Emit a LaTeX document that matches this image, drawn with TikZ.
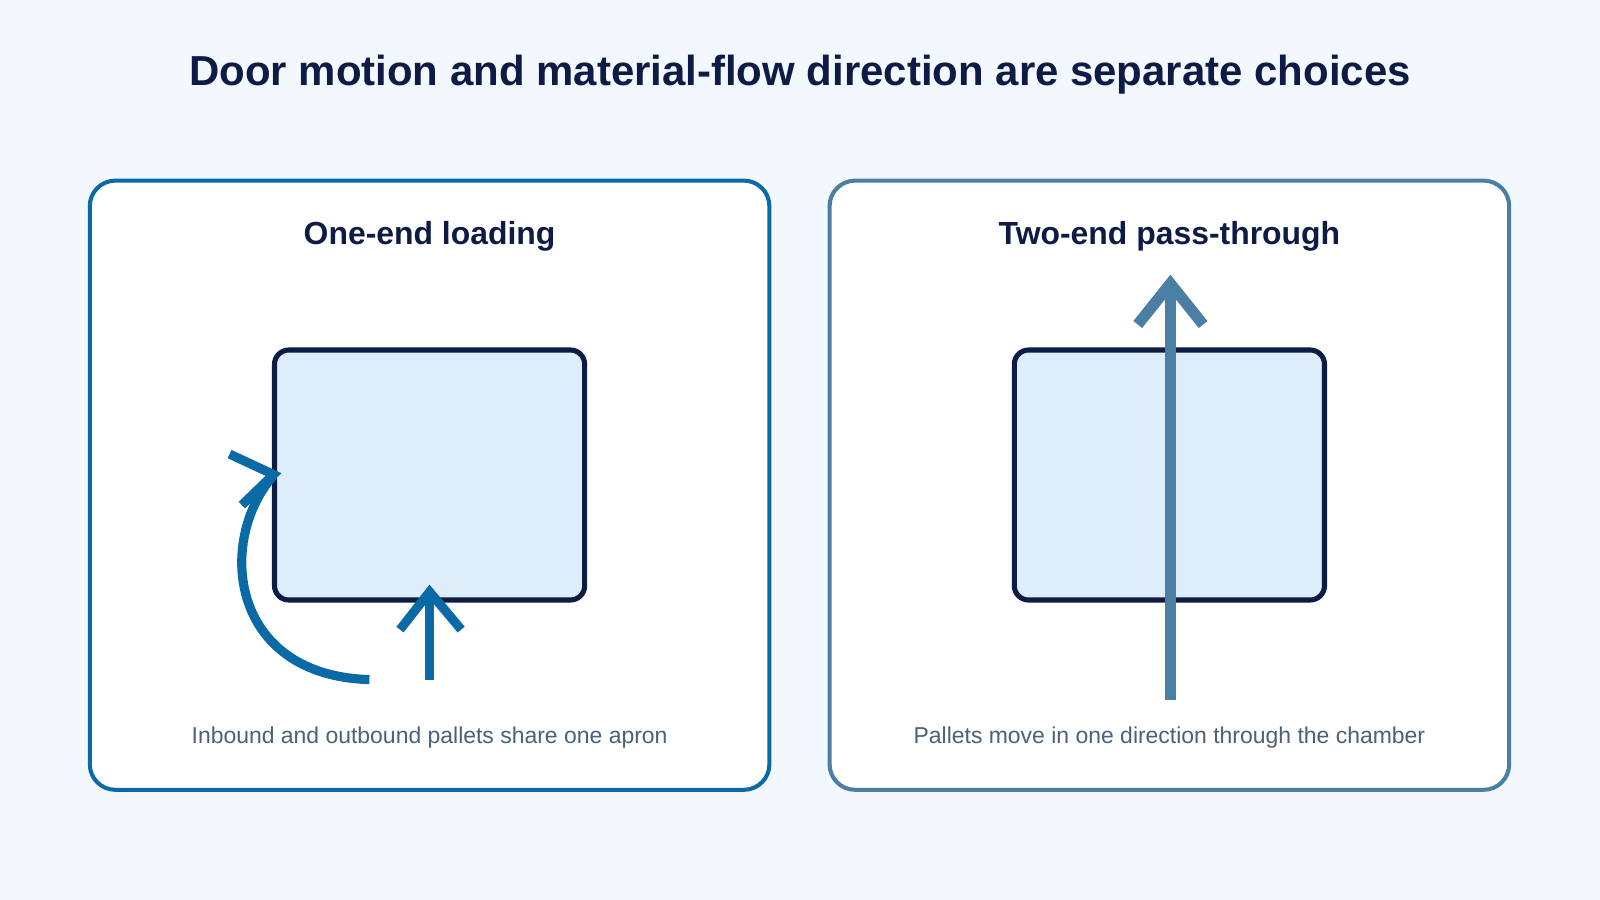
\documentclass[tikz,border=0pt]{standalone}
\usepackage{fontspec}
\setmainfont{Liberation Sans}
\begin{document}
\begin{tikzpicture}[x=0.02cm,y=-0.02cm,
  panel/.style={rounded corners=25*0.02cm,fill=white,line width=4*0.567pt},
  inner/.style={rounded corners=14*0.02cm,fill=boxfill,draw=navy,line width=5*0.567pt},
  flow/.style={line width=9*0.567pt},
  ttl/.style={text=navy,font=\bfseries\fontsize{17.8}{21}\selectfont},
  captxt/.style={text=capc,font=\fontsize{12.8}{15}\selectfont}]
\definecolor{bg}{HTML}{F3F8FE}
\definecolor{navy}{HTML}{0D1B45}
\definecolor{boxfill}{HTML}{DEEDFA}
\definecolor{blueA}{HTML}{0A6AA6}
\definecolor{blueB}{HTML}{4A7FA3}
\definecolor{capc}{HTML}{4A6178}
\fill[bg] (0,0) rectangle (1568,882);
\useasboundingbox (0,0) rectangle (1568,882);
\node[text=navy,font=\bfseries\fontsize{23.4}{27}\selectfont] (title) at (784,73) {Door motion and material-flow direction are separate choices};
% left panel
\draw[panel,draw=blueA] (88,177) rectangle (754,774);
\node[ttl] (lt) at (421,232) {One-end loading};
\node[inner] (lbox) at (421,465.5) [minimum width=304*0.02cm,minimum height=245*0.02cm] {};
\draw[flow,draw=blueA] (421,666) -- (421,580);
\draw[flow,draw=blueA,line join=miter] (392,617) -- (421,580) -- (452,617);
\draw[flow,draw=blueA] (362,666) .. controls (225,662) and (212,530) .. (268,466);
\draw[flow,draw=blueA,line join=miter] (225,445) -- (268,465) -- (237,495);
\node[captxt] (lc) at (421,723) {Inbound and outbound pallets share one apron};
% right panel
\draw[panel,draw=blueB] (813,177) rectangle (1479,774);
\node[ttl] (rt) at (1146,232) {Two-end pass-through};
\node[inner] (rbox) at (1146,465.5) [minimum width=304*0.02cm,minimum height=245*0.02cm] {};
\draw[line width=11*0.567pt,draw=blueB] (1147,686) -- (1147,280);
\draw[line width=11*0.567pt,draw=blueB,line join=miter] (1115,318) -- (1147,278) -- (1179,318);
\node[captxt] (rc) at (1146,723) {Pallets move in one direction through the chamber};
\end{tikzpicture}
\end{document}
